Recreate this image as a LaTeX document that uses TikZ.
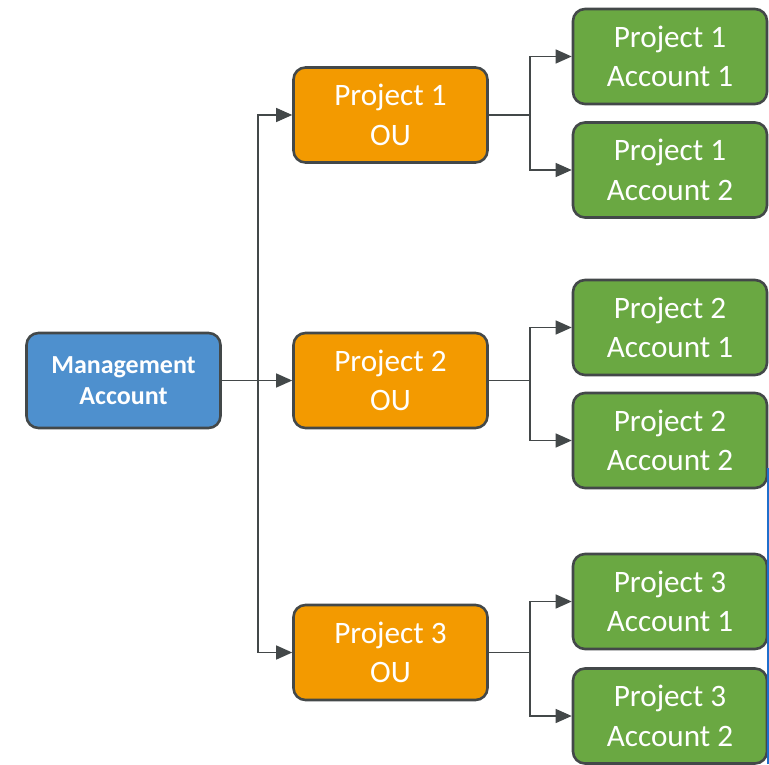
\documentclass[tikz,border=0pt]{standalone}
\usepackage{fontspec}
\setmainfont{Carlito}
\usetikzlibrary{arrows.meta}
\definecolor{mgmtblue}{HTML}{4E90CE}
\definecolor{ouorange}{HTML}{F39A00}
\definecolor{accgreen}{HTML}{6AA842}
\definecolor{edgegray}{HTML}{434849}
\definecolor{sideblue}{HTML}{1F6FCC}
\begin{document}
\begin{tikzpicture}[x=0.5pt,y=-0.5pt,>={Triangle[length=8pt,width=7pt]},
  box/.style={draw=edgegray, line width=1.3pt, rounded corners=6pt, align=center, text=white,
    minimum width=97pt, minimum height=47.5pt, inner sep=0pt,
    font=\fontsize{15.6}{19.8}\selectfont},
  link/.style={draw=edgegray, line width=0.6pt}]
\useasboundingbox (0,0) rectangle (769,764);
% management
\node[box, fill=mgmtblue, font=\bfseries\fontsize{13}{15.6}\selectfont] (mgmt) at (123.5,380.5) {Management\\Account};
% project OUs
\node[box, fill=ouorange] (ou1) at (390.5,115) {Project 1\\OU};
\node[box, fill=ouorange] (ou2) at (390.5,380.5) {Project 2\\OU};
\node[box, fill=ouorange] (ou3) at (390.5,652.5) {Project 3\\OU};
% accounts
\node[box, fill=accgreen] (p1a1) at (670,56.5) {Project 1\\Account 1};
\node[box, fill=accgreen] (p1a2) at (670,170) {Project 1\\Account 2};
\node[box, fill=accgreen] (p2a1) at (670,327.5) {Project 2\\Account 1};
\node[box, fill=accgreen] (p2a2) at (670,440.5) {Project 2\\Account 2};
\node[box, fill=accgreen] (p3a1) at (670,601.5) {Project 3\\Account 1};
\node[box, fill=accgreen] (p3a2) at (670,716) {Project 3\\Account 2};
\coordinate (bus) at (258,380.5);
\coordinate (b1) at (530,115);
\coordinate (b2) at (530,380.5);
\coordinate (b3) at (530,652.5);
\draw[link,->] (mgmt) -- (ou2);
\draw[link,->] (bus) |- (ou1);
\draw[link,->] (bus) |- (ou3);
\draw[link] (ou1) -- (b1);
\draw[link,->] (b1) |- (p1a1);
\draw[link,->] (b1) |- (p1a2);
\draw[link] (ou2) -- (b2);
\draw[link,->] (b2) |- (p2a1);
\draw[link,->] (b2) |- (p2a2);
\draw[link] (ou3) -- (b3);
\draw[link,->] (b3) |- (p3a1);
\draw[link,->] (b3) |- (p3a2);
% edge line at right
\draw[sideblue, line width=1pt] (767.5,468) -- (767.5,764);
\end{tikzpicture}
\end{document}
